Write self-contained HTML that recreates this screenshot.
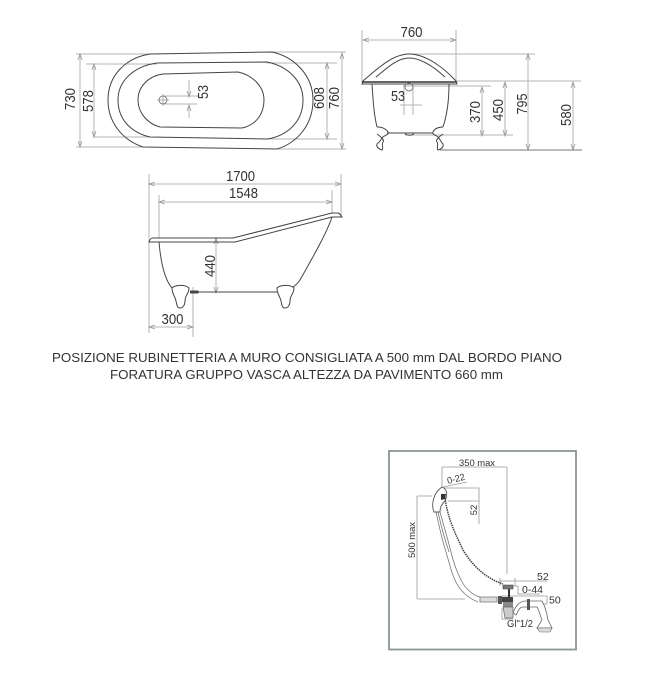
<!DOCTYPE html>
<html><head><meta charset="utf-8"><style>
html,body{margin:0;padding:0;background:#fff;width:663px;height:683px;overflow:hidden}
svg{display:block}
text{font-family:"Liberation Sans",sans-serif;fill:#333}
.d{stroke:#b4b4b4;stroke-width:1;fill:none}
.o{stroke:#444;stroke-width:1;fill:none}
.a{fill:none;stroke:#999;stroke-width:.8}
.t{stroke:#777;stroke-width:.8;fill:none}
</style></head><body>
<svg width="663" height="683" viewBox="0 0 663 683" xmlns="http://www.w3.org/2000/svg">
<!-- top view -->
<path class="d" d="M76 54H150M272 52H346M76 147H143M277 149H346M86 64H157M267 63H337M93 137H150M267 139H337"/>
<path class="d" d="M80 54V147M94 64V137M327 63V139M342 53V149M189 80V97M189 105V118M162 96H198M162 104H197"/>
<path class="a" d="M78 60L80 54L82 60M78 141L80 147L82 141M92 70L94 64L96 70M92 131L94 137L96 131M325 69L327 63L329 69M325 133L327 139L329 133M340 59L342 53L344 59M340 143L342 149L344 143M187 91L189 97L191 91M187 111L189 105L191 111"/>
<path class="o" d="M150 54L272 52C295 57 313 76 313 100C313 125 297 143 277 149L143 147C122 140 108 122 108 100C108 76 125 58 150 54Z"/>
<path class="o" d="M157 63L267 62C287 66 303 80 303 100C303 122 287 136 267 139L150 137C132 133 118 120 118 100C118 80 135 66 157 63Z"/>
<path class="o" d="M163 74L238 72C252 75 264 86 264 100C264 114 256 125 242 128L160 127C148 124 138 113 138 100C138 87 148 76 163 74Z"/>
<circle cx="163" cy="100" r="4" fill="none" stroke="#666" stroke-width=".8"/><path class="a" d="M157 100H169M163 94V106"/>
<g font-size="15">
<text transform="translate(75,99) rotate(-90)" text-anchor="middle" textLength="22" lengthAdjust="spacingAndGlyphs">730</text>
<text transform="translate(93,101) rotate(-90)" text-anchor="middle" textLength="22" lengthAdjust="spacingAndGlyphs">578</text>
<text transform="translate(208,92) rotate(-90)" text-anchor="middle" textLength="14" lengthAdjust="spacingAndGlyphs">53</text>
<text transform="translate(324,98) rotate(-90)" text-anchor="middle" textLength="22" lengthAdjust="spacingAndGlyphs">608</text>
<text transform="translate(339,98) rotate(-90)" text-anchor="middle" textLength="22" lengthAdjust="spacingAndGlyphs">760</text>
</g>
<!-- front view -->
<path class="d" d="M362 30V82M456 30V82M363 40H456M410 54H535M457 81H581M403 86H491M405 135H513M482 87V136M505 82V136M528 54V150M573 82V150M404 85V115M413 85V115M400 105H422"/>
<path d="M440 150H582" stroke="#777" stroke-width="1" fill="none"/>
<path class="a" d="M369 38L363 40L369 42M450 38L456 40L450 42M480 93L482 87L484 93M480 130L482 136L484 130M503 88L505 82L507 88M503 130L505 136L507 130M526 60L528 54L530 60M526 144L528 150L530 144M571 88L573 82L575 88M571 144L573 150L575 144"/>
<path d="M363 81C378 68 393 54 409 54C426 54 444 68 456 81L457 84H362Z" fill="#fff" stroke="#444" stroke-width="1"/>
<path class="o" d="M376 77C388 67 398 58 409 58C421 58 434 67 445 77"/>
<path d="M362 82H457" stroke="#333" stroke-width="1.6"/>
<path class="o" d="M372 84C373 100 374 115 377 127M449 84C449 100 447 115 443 127M387 133H433M405 133C406 136 413 136 414 133"/>
<path class="o" d="M377 127C382 127 386 129 388 132C389 135 385 135 383 137C381 139 381 141 377 144C376 147 379 149 382 150C384 148 381 145 383 142C385 140 380 136 377 134M443 127C438 127 434 129 433 132C432 135 436 135 438 137C440 139 440 141 443 144C444 147 441 149 438 150C436 148 439 145 437 142C435 140 440 136 443 134"/>
<circle cx="409" cy="87" r="4" fill="none" stroke="#666" stroke-width=".8"/>
<g font-size="15">
<text x="411.500" y="37" text-anchor="middle" textLength="22" lengthAdjust="spacingAndGlyphs">760</text>
<text x="398" y="101" text-anchor="middle" textLength="14" lengthAdjust="spacingAndGlyphs">53</text>
<text transform="translate(480,112) rotate(-90)" text-anchor="middle" textLength="22" lengthAdjust="spacingAndGlyphs">370</text>
<text transform="translate(503,110) rotate(-90)" text-anchor="middle" textLength="22" lengthAdjust="spacingAndGlyphs">450</text>
<text transform="translate(527,104) rotate(-90)" text-anchor="middle" textLength="21" lengthAdjust="spacingAndGlyphs">795</text>
<text transform="translate(571,115) rotate(-90)" text-anchor="middle" textLength="22" lengthAdjust="spacingAndGlyphs">580</text>
</g>
<!-- side view -->
<path class="d" d="M149 174V333M341 174V217M159 195V238M332 190V213M193 287V337M149 184H341M159 202H332M216 238V293M149 327H193"/>
<path class="a" d="M155 182L149 184L155 186M335 182L341 184L335 186M165 200L159 202L165 204M326 200L332 202L326 204M214 244L216 238L218 244M214 287L216 293L218 287M155 325L149 327L155 329M187 325L193 327L187 329"/>
<path class="o" d="M149 242C150 239 151 238 153 238H233L332 213H338C340 214 341 215 342 217H332L235 242H149ZM332 217C326 235 310 262 300 280C298 283 296 285 293 287M159 242C161 265 165 280 172 288M190 292H225M190 291H198V293H190M225 292H277"/>
<path class="o" d="M172 288C175 285 185 284 189 288C189 294 185 295 185 301C185 305 183 308 180 308C177 308 177 305 176 301C175 296 172 294 172 288Z" fill="#fff"/>
<path class="o" d="M277 288C280 285 290 284 294 288C294 294 290 295 290 301C290 305 288 308 285 308C282 308 282 305 281 301C280 296 277 294 277 288Z"/>
<g font-size="15">
<text x="240.500" y="181" text-anchor="middle" textLength="29" lengthAdjust="spacingAndGlyphs">1700</text>
<text x="243.500" y="198" text-anchor="middle" textLength="29" lengthAdjust="spacingAndGlyphs">1548</text>
<text transform="translate(215,266) rotate(-90)" text-anchor="middle" textLength="22" lengthAdjust="spacingAndGlyphs">440</text>
<text x="172.500" y="324" text-anchor="middle" textLength="22" lengthAdjust="spacingAndGlyphs">300</text>
</g>
<!-- notes -->
<g font-size="13.3" text-anchor="middle">
<text x="307" y="362" textLength="510" lengthAdjust="spacingAndGlyphs">POSIZIONE RUBINETTERIA A MURO CONSIGLIATA A 500 mm DAL BORDO PIANO</text>
<text x="306.500" y="379" textLength="393" lengthAdjust="spacingAndGlyphs">FORATURA GRUPPO VASCA ALTEZZA DA PAVIMENTO 660 mm</text>
</g>
<!-- inset -->
<rect x="389" y="451" width="187" height="198.500" fill="none" stroke="#8a9696" stroke-width="1.8"/>
<path class="a" d="M442 467V487M507 467V574M442 467H507M443 487L467 482M443 488H479V524M448 501H479M417 496H432M417 496V599M417 599H465M500 578V586M515 578V586M500 581H547M518 586V594H540M513 586H518M547 596V604M502 596H547M535 604H547M502 608V619H513"/>
<path d="M434 512C431 505 433 493 442 487C447 489 448 494 445 501C441 505 440 508 440 512Z" fill="#fff" stroke="#555" stroke-width=".9"/>
<path d="M441 494L446 494L445 499L441 500Z" fill="#333"/>
<path class="t" d="M436 512C440 530 442 540 446 552C450 565 451 572 455 580C459 590 468 598 478 602M440 512C445 530 448 540 451 552C454 565 457 572 461 580C465 588 472 595 480 597M438 512C442 530 445 540 449 552"/>
<path d="M445 498C448 520 456 535 463 550C472 565 485 578 503 584" fill="none" stroke="#444" stroke-width="1.5" stroke-dasharray="1.5 .8"/>
<path d="M480 597H497V602H480Z" fill="#ddd" stroke="#777" stroke-width=".8"/>
<path d="M498 596H502V604H498Z" fill="#555"/>
<path d="M503 585H513V589H503Z" fill="#777" stroke="#444" stroke-width=".6"/>
<path d="M508 589H510V597H508Z" fill="#333"/>
<path d="M502 597H513V602H502Z" fill="#444"/>
<path d="M503 602H513V607H503Z" fill="#888"/>
<path d="M503 607H513V618H505Z" fill="#ccc" stroke="#666" stroke-width=".7"/>
<path d="M513 613C515 608 518 601 526 601H542C545 606 547 614 548 620L552 628H537L542 620C540 615 539 610 537 607H523C519 607 518 612 516 615Z" fill="#fff" stroke="#666" stroke-width=".8"/>
<path d="M527 599H530V610H527Z" fill="#555"/>
<path d="M537 628H552L550 632H540Z" fill="#ddd" stroke="#666" stroke-width=".6"/>
<g font-size="9.500">
<text x="459" y="466" textLength="36" lengthAdjust="spacingAndGlyphs">350 max</text>
<text transform="translate(448,484) rotate(-14)" textLength="18" lengthAdjust="spacingAndGlyphs">0-22</text>
<text transform="translate(477,510) rotate(-90)" text-anchor="middle">52</text>
<text transform="translate(415,540) rotate(-90)" text-anchor="middle" textLength="36" lengthAdjust="spacingAndGlyphs">500 max</text>
<text x="537" y="580" font-size="10.500">52</text>
<text x="522" y="593" font-size="10.500">0-44</text>
<text x="549" y="603.500" font-size="10.500">50</text>
<text x="507" y="627" font-size="10.500" textLength="26" lengthAdjust="spacingAndGlyphs">Gl"1/2</text>
</g>
</svg>
</body></html>
